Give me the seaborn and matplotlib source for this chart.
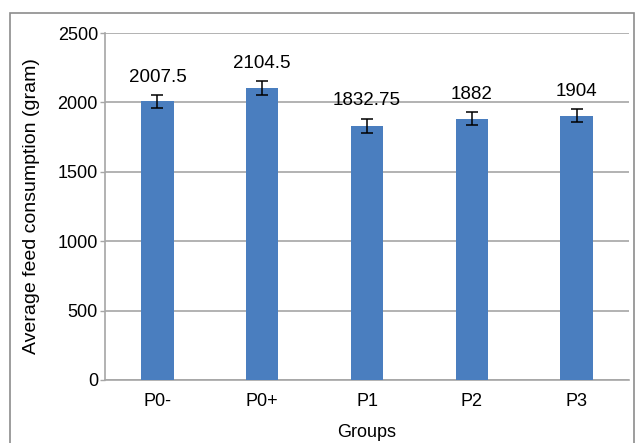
import matplotlib
import numpy as np
import pandas as pd
import seaborn as sns
from matplotlib.patches import Rectangle

matplotlib.use("Agg")
import matplotlib.pyplot as plt


GROUPS = ["P0-", "P0+", "P1", "P2", "P3"]
FEED_MEAN = [2007.5, 2104.5, 1832.75, 1882, 1904]
FEED_ERR = [48, 48, 50, 48, 48]
VALUE_LABELS = ["2007.5", "2104.5", "1832.75", "1882", "1904"]
Y_TICKS = [0, 500, 1000, 1500, 2000, 2500]

BAR_COLOR = "#4A7EBF"
GRID_COLOR = "#A6A6A6"


def setup_style() -> None:
    sns.set_theme(style="white")
    plt.rcParams["font.family"] = ["Liberation Sans", "DejaVu Sans"]
    plt.rcParams["figure.facecolor"] = "white"
    plt.rcParams["axes.facecolor"] = "white"


def main() -> None:
    setup_style()
    df = pd.DataFrame({"group": GROUPS, "mean": FEED_MEAN, "err": FEED_ERR})

    fig = plt.figure(figsize=(6.35, 4.43), dpi=100)
    ax = fig.add_axes([105 / 635, 1 - 380 / 443, 524 / 635, 347 / 443])

    sns.barplot(data=df, x="group", y="mean", color=BAR_COLOR, width=0.31,
                saturation=1, errorbar=None, linewidth=0, ax=ax, zorder=3)
    xs = np.arange(len(df))
    ax.errorbar(xs, df["mean"], yerr=df["err"], fmt="none", ecolor="black",
                elinewidth=1.1, capsize=4.6, capthick=1.1, zorder=4)

    for x, top, label in zip(xs, df["mean"] + df["err"], VALUE_LABELS):
        ax.annotate(label, (x, top), xytext=(0, 9.5), textcoords="offset points",
                    ha="center", va="baseline", fontsize=13.5, color="black")

    ax.set_ylim(0, 2500)
    ax.set_xlim(-0.5, len(df) - 0.5)
    ax.set_yticks(Y_TICKS)
    ax.yaxis.grid(True, color=GRID_COLOR, linewidth=1.2, zorder=0)
    ax.set_axisbelow(True)

    for side in ["top", "right"]:
        ax.spines[side].set_visible(False)
    for side in ["left", "bottom"]:
        ax.spines[side].set_color(GRID_COLOR)
        ax.spines[side].set_linewidth(1.2)

    ax.tick_params(axis="y", left=True, length=3.6, width=1, color=GRID_COLOR,
                   pad=1.5, labelsize=13, labelcolor="black")
    ax.tick_params(axis="x", bottom=False, length=0, pad=9, labelsize=13,
                   labelcolor="black")

    ax.set_xlabel("Groups", fontsize=13, color="black")
    ax.set_ylabel("Average feed consumption (gram)", fontsize=14, color="black")
    ax.xaxis.set_label_coords(0.5, -0.127)
    ax.yaxis.set_label_coords(-0.124, 0.5)

    fig.patches.append(Rectangle((10 / 635, -0.02), 624 / 635, (443 - 13) / 443 + 0.02,
                                 transform=fig.transFigure, fill=False,
                                 edgecolor="#8C8C8C", linewidth=1.2))

    fig.savefig("out.png", dpi=100)
    plt.close(fig)


if __name__ == "__main__":
    main()
